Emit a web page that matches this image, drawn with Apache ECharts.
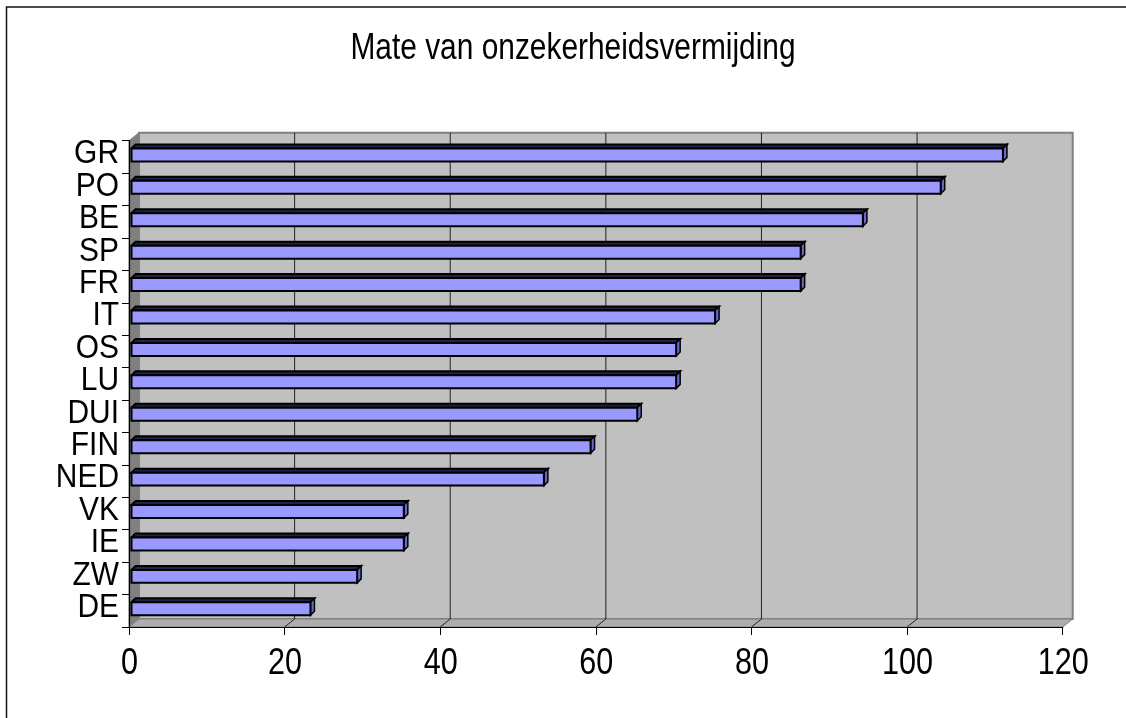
<!DOCTYPE html>
<html>
<head>
<meta charset="utf-8">
<script src="https://cdn.jsdelivr.net/npm/echarts@6/dist/echarts.min.js"></script>
<style>
  html, body { margin: 0; padding: 0; background: #ffffff; }
  #chart { width: 1126px; height: 718px; }
</style>
</head>
<body>
<div id="chart"></div>
<script>
// Uncertainty avoidance per country, listed top to bottom
const countries = ['GR', 'PO', 'BE', 'SP', 'FR', 'IT', 'OS', 'LU', 'DUI', 'FIN', 'NED', 'VK', 'IE', 'ZW', 'DE'];
const scores = [112, 104, 94, 86, 86, 75, 70, 70, 65, 59, 53, 35, 35, 29, 23];
const xTicks = [0, 20, 40, 60, 80, 100, 120];
const titleText = 'Mate van onzekerheidsvermijding';

const FONT = '"Liberation Sans", Arial, sans-serif';
// depth of the box (back wall offset) and of each bar, in pixels
const WALL_DX = 10, WALL_DY = 8;
const BAR_DX = 4, BAR_DY = 4;
const BAR_SHIFT_X = 2.5, BAR_SHIFT_Y = -2;

const chart = echarts.init(document.getElementById('chart'));

// back wall, side wall, floor and vertical gridlines
function renderFrame(params, api) {
  const cs = params.coordSys;
  const L = cs.x, T = cs.y, R = cs.x + cs.width, B = cs.y + cs.height;
  const children = [
    { type: 'rect', shape: { x: L + WALL_DX, y: T - WALL_DY, width: R - L, height: B - T },
      style: { fill: '#C0C0C0', stroke: '#808080', lineWidth: 2 } },
    { type: 'polygon', shape: { points: [[L, T], [L + WALL_DX, T - WALL_DY], [L + WALL_DX, B - WALL_DY], [L, B]] },
      style: { fill: '#808080', stroke: '#808080', lineWidth: 1 } },
    { type: 'polygon', shape: { points: [[L, B], [L + WALL_DX, B - WALL_DY], [R + WALL_DX, B - WALL_DY], [R, B]] },
      style: { fill: '#ADADAD', stroke: '#808080', lineWidth: 1 } }
  ];
  xTicks.slice(1, -1).forEach(function (v) {
    const x = api.coord([v, 0])[0];
    children.push({ type: 'line', shape: { x1: x + WALL_DX, y1: T - WALL_DY, x2: x + WALL_DX, y2: B - WALL_DY },
      style: { stroke: '#222', lineWidth: 1 } });
    children.push({ type: 'line', shape: { x1: x, y1: B, x2: x + WALL_DX, y2: B - WALL_DY },
      style: { stroke: '#222', lineWidth: 1 } });
  });
  return { type: 'group', children: children };
}

// one box-shaped bar: front face, top face and end face
function renderBar(params, api) {
  const idx = api.value(1);
  const p0 = api.coord([0, idx]);
  const p1 = api.coord([api.value(0), idx]);
  const band = api.size([0, 1])[1];
  const h = band * 0.40;
  const cy = p0[1] + BAR_SHIFT_Y;
  const xs = p0[0] + BAR_SHIFT_X, xe = p1[0] + BAR_SHIFT_X;
  const top = cy - h / 2, bottom = cy + h / 2;
  return {
    type: 'group',
    children: [
      { type: 'polygon', shape: { points: [[xs, top], [xs + BAR_DX, top - BAR_DY], [xe + BAR_DX, top - BAR_DY], [xe, top]] },
        style: { fill: '#222244', stroke: '#000', lineWidth: 2 } },
      { type: 'polygon', shape: { points: [[xe, top], [xe + BAR_DX, top - BAR_DY], [xe + BAR_DX, bottom - BAR_DY], [xe, bottom]] },
        style: { fill: '#6666CC', stroke: '#000', lineWidth: 1.5 } },
      { type: 'rect', shape: { x: xs, y: top, width: xe - xs, height: h },
        style: { fill: '#9999FF', stroke: '#000', lineWidth: 2 } }
    ]
  };
}

// narrow category labels to the left of the axis
function renderCategoryLabel(params, api) {
  const idx = api.value(1);
  const p = api.coord([0, idx]);
  return {
    type: 'text', x: p[0] - 10, y: p[1] - 3, scaleX: 0.88,
    style: { text: countries[idx], font: '34px ' + FONT, fill: '#000', align: 'right', verticalAlign: 'middle' }
  };
}

// narrow tick labels under the value axis
function renderValueLabel(params, api) {
  const cs = params.coordSys;
  const v = api.value(0);
  const p = api.coord([v, 0]);
  return {
    type: 'text', x: p[0] + 0.5, y: cs.y + cs.height + 37.5, scaleX: 0.85,
    style: { text: String(v), font: '36px ' + FONT, fill: '#000', align: 'center', verticalAlign: 'middle' }
  };
}

chart.setOption({
  animation: false,
  backgroundColor: '#ffffff',
  graphic: [
    { type: 'text', silent: true, x: 573, y: 49, scaleX: 0.83,
      style: { text: titleText, font: '36px ' + FONT, fill: '#000', align: 'center', verticalAlign: 'middle' } },
    { type: 'rect', silent: true, z: 100,
      shape: { x: 6.5, y: 7, width: 1200, height: 800 },
      style: { fill: 'none', stroke: '#111', lineWidth: 1.5 } }
  ],
  grid: { left: 129, right: 63.3, top: 140.7, bottom: 91, containLabel: false },
  xAxis: {
    type: 'value', min: 0, max: 120, interval: 20, z: 10,
    axisLine: { show: true, lineStyle: { color: '#000', width: 1.2 } },
    axisTick: { show: true, length: 8, lineStyle: { color: '#000', width: 1 } },
    splitLine: { show: false },
    axisLabel: { show: false }
  },
  yAxis: {
    type: 'category', data: countries, inverse: true, z: 10,
    axisLine: { show: true, lineStyle: { color: '#000', width: 1.2 } },
    axisTick: { show: true, length: 7, interval: 0, lineStyle: { color: '#000', width: 1 } },
    axisLabel: { show: false }
  },
  series: [
    { type: 'custom', z: 1, silent: true, renderItem: renderFrame, data: [[0, 0]], encode: { x: 0, y: 1 } },
    { type: 'custom', z: 2, renderItem: renderBar, encode: { x: 0, y: 1 },
      data: scores.map(function (v, i) { return [v, i]; }) },
    { type: 'custom', z: 3, silent: true, renderItem: renderCategoryLabel, encode: { x: 0, y: 1 },
      data: countries.map(function (c, i) { return [0, i]; }) },
    { type: 'custom', z: 3, silent: true, renderItem: renderValueLabel, encode: { x: 0, y: 1 },
      data: xTicks.map(function (v) { return [v, 0]; }) }
  ]
});
</script>
</body>
</html>
